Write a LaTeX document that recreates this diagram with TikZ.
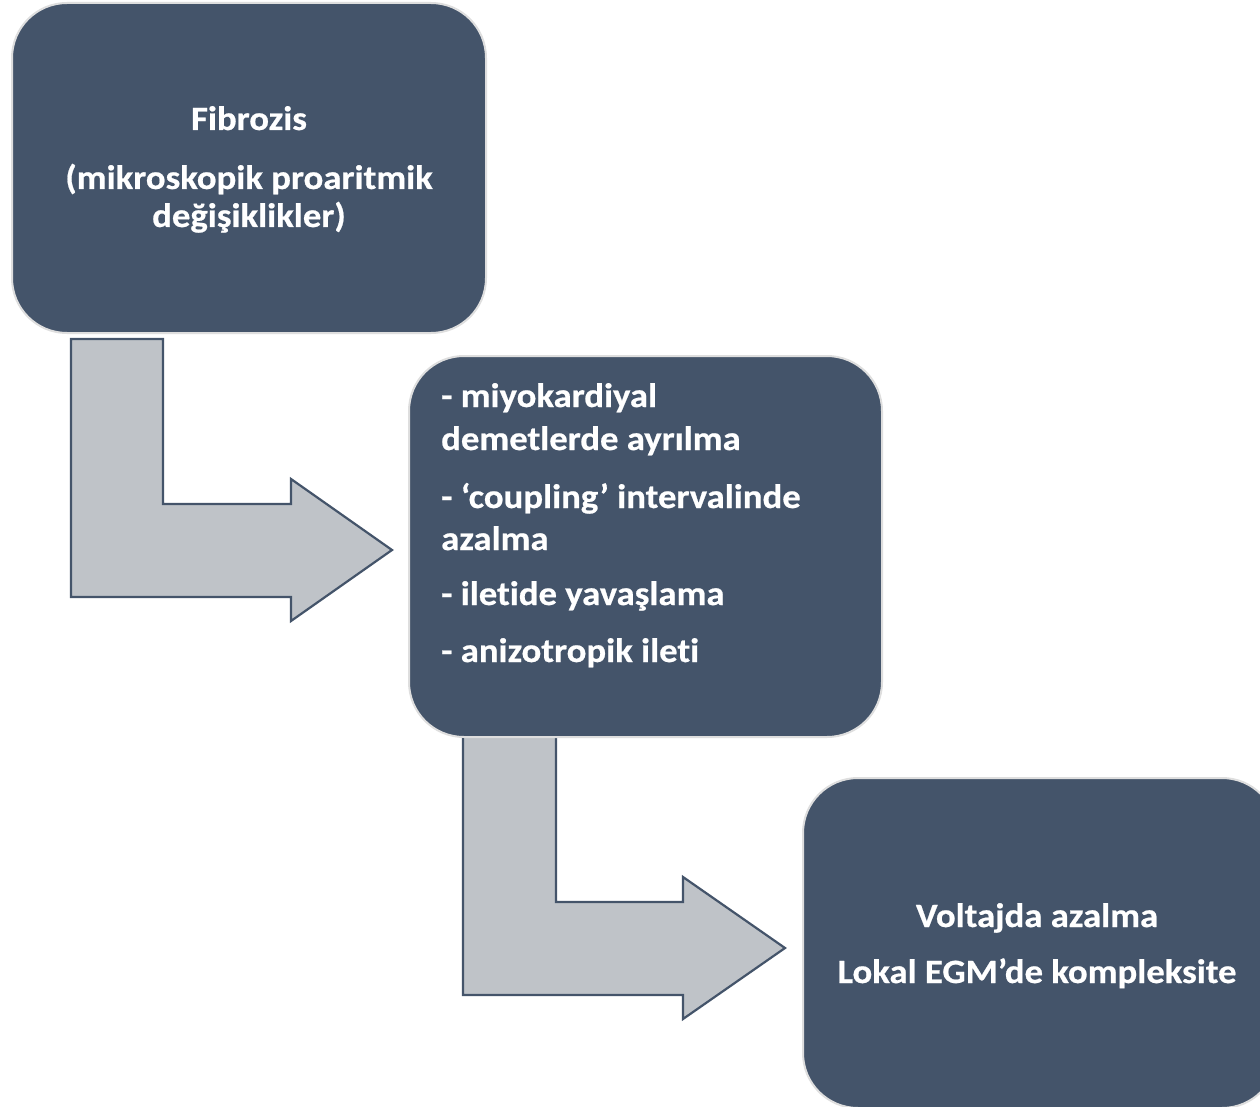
\documentclass[tikz,border=0pt]{standalone}
\usepackage{fontspec}
\setmainfont{Carlito}
\newfontfamily\lblfont[FakeStretch=1.08,FakeBold=0.6,Ligatures={NoCommon}]{Carlito}
\definecolor{boxfill}{HTML}{44546A}
\definecolor{boxedge}{HTML}{DEDEDE}
\definecolor{arrowfill}{HTML}{BFC3C8}
\begin{document}
\begin{tikzpicture}[x=1pt,y=-1pt,
  box/.style={fill=boxfill,draw=boxedge,line width=2pt,rounded corners=55pt},
  bentarrow/.style={fill=arrowfill,draw=boxfill,line width=2.2pt,line join=miter},
  lbl/.style={text=white,font=\lblfont\fontsize{34}{40}\selectfont\bfseries,inner sep=0pt},
  ctr/.style={lbl,anchor=base},
  lft/.style={lbl,anchor=base west}]
\useasboundingbox (0,0) rectangle (1260,1107);
\clip (0,0) rectangle (1260,1107);
\fill[white] (0,0) rectangle (1260,1107);
% arrows
\draw[bentarrow] (71,339) -- (163,339) -- (163,504) -- (291,504) -- (291,479) -- (392,550) -- (291,621) -- (291,597) -- (71,597) -- cycle;
\draw[bentarrow] (463,730) -- (556,730) -- (556,902) -- (683,902) -- (683,877) -- (785,948) -- (683,1019) -- (683,995) -- (463,995) -- cycle;
% boxes
\draw[box] (12,3) rectangle (486,333);
\draw[box] (409,356) rectangle (882,737);
\draw[box] (803,778) rectangle (1277,1108);
% box 1 text
\node[ctr] (t1a) at (249,130) {Fibrozis};
\node[ctr] (t1b) at (249,189) {(mikroskopik proaritmik};
\node[ctr] (t1c) at (249,227) {değişiklikler)};
% box 2 text
\node[lft] (t2a) at (441,407) {- miyokardiyal};
\node[lft] (t2b) at (441,450) {demetlerde ayrılma};
\node[lft] (t2c) at (441,508) {- ‘coupling’ intervalinde};
\node[lft] (t2d) at (441,550) {azalma};
\node[lft] (t2e) at (441,605) {- iletide yavaşlama};
\node[lft] (t2f) at (441,662) {- anizotropik ileti};
% box 3 text
\node[ctr] (t3a) at (1037,927) {Voltajda azalma};
\node[ctr] (t3b) at (1037,983) {Lokal EGM’de kompleksite};
\end{tikzpicture}
\end{document}
